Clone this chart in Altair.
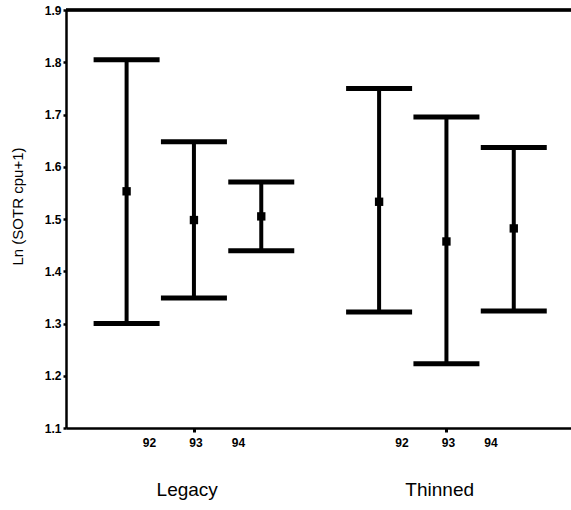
import altair as alt
import pandas as pd

# ---- data ----
groups = ["Legacy", "Legacy", "Legacy", "Thinned", "Thinned", "Thinned"]
years = ["92", "93", "94", "92", "93", "94"]
means = [1.553, 1.498, 1.505, 1.533, 1.457, 1.482]
upper = [1.805, 1.648, 1.571, 1.750, 1.695, 1.637]
lower = [1.300, 1.349, 1.439, 1.322, 1.223, 1.324]
group_names = ["Legacy", "Thinned"]
y_ticks = [1.1, 1.2, 1.3, 1.4, 1.5, 1.6, 1.7, 1.8, 1.9]
y_title = "Ln (SOTR cpu+1)"

# ---- layout (x slots, in units of bar spacing) ----
x_domain = [0, 7.5]
group_center = {"Legacy": 1.9, "Thinned": 5.65}
bar_offset = {"92": -1.0, "93": 0.0, "94": 1.0}
label_offset = {"92": -0.66, "93": 0.03, "94": 0.66}
group_label_shift = -0.1

W, H = 505, 418
FONT = "Liberation Sans"

df = pd.DataFrame({"group": groups, "year": years, "mean": means,
                   "upper": upper, "lower": lower})
df["xpos"] = [group_center[g] + bar_offset[y] for g, y in zip(groups, years)]
df["labx"] = [group_center[g] + label_offset[y] for g, y in zip(groups, years)]

gdf = pd.DataFrame({"group": group_names})
gdf["gx"] = [group_center[g] + group_label_shift for g in group_names]

xscale = alt.Scale(domain=x_domain, nice=False, zero=False)
yscale = alt.Scale(domain=[1.1, 1.9], nice=False, zero=False)

base = alt.Chart(df)

x_enc = alt.X("xpos:Q", scale=xscale,
              axis=alt.Axis(values=[group_center["Legacy"], group_center["Thinned"]],
                            labels=False, title=None, grid=False,
                            ticks=True, tickSize=4, tickWidth=3, tickColor="black",
                            domainColor="black", domainWidth=2.5))

whisk = base.mark_rule(strokeWidth=4, color="black").encode(
    x=x_enc,
    y=alt.Y("upper:Q", scale=yscale,
            axis=alt.Axis(values=y_ticks, format=".1f", grid=False,
                          labelFont=FONT, labelFontSize=12, labelFontWeight="bold",
                          labelColor="black", labelPadding=2,
                          tickSize=3, tickWidth=2.5, tickColor="black",
                          domainColor="black", domainWidth=2.5,
                          title=y_title, titleFont=FONT, titleFontSize=15,
                          titleFontWeight="normal", titleColor="black",
                          titleX=-49, titleY=196, titleBaseline="middle")),
    y2="lower:Q",
)

cap_top = base.mark_tick(orient="horizontal", thickness=5, size=66, color="black",
                         opacity=1).encode(
    x=alt.X("xpos:Q", scale=xscale), y=alt.Y("upper:Q", scale=yscale))
cap_bot = base.mark_tick(orient="horizontal", thickness=5, size=66, color="black",
                         opacity=1).encode(
    x=alt.X("xpos:Q", scale=xscale), y=alt.Y("lower:Q", scale=yscale))

pts = base.mark_square(size=70, color="black", opacity=1).encode(
    x=alt.X("xpos:Q", scale=xscale), y=alt.Y("mean:Q", scale=yscale))

top_line = base.mark_rule(strokeWidth=2.5, color="black").encode(
    y=alt.datum(1.9))

year_lbl = base.mark_text(font=FONT, fontSize=12, fontWeight="bold",
                          baseline="middle", align="center", color="black").encode(
    x=alt.X("labx:Q", scale=xscale), y=alt.value(H + 15), text="year:N")

group_lbl = alt.Chart(gdf).mark_text(font=FONT, fontSize=19, baseline="middle",
                                     align="center", color="black").encode(
    x=alt.X("gx:Q", scale=xscale), y=alt.value(H + 62), text="group:N")

chart = alt.layer(whisk, cap_top, cap_bot, pts, top_line, year_lbl, group_lbl).properties(
    width=W, height=H,
    autosize=alt.AutoSizeParams(type="none"),
    padding={"left": 66, "top": 10, "right": 0, "bottom": 82},
    background="white",
).configure_view(stroke=None)

chart.save("out.html", embed_options={"renderer": "svg", "actions": False})
